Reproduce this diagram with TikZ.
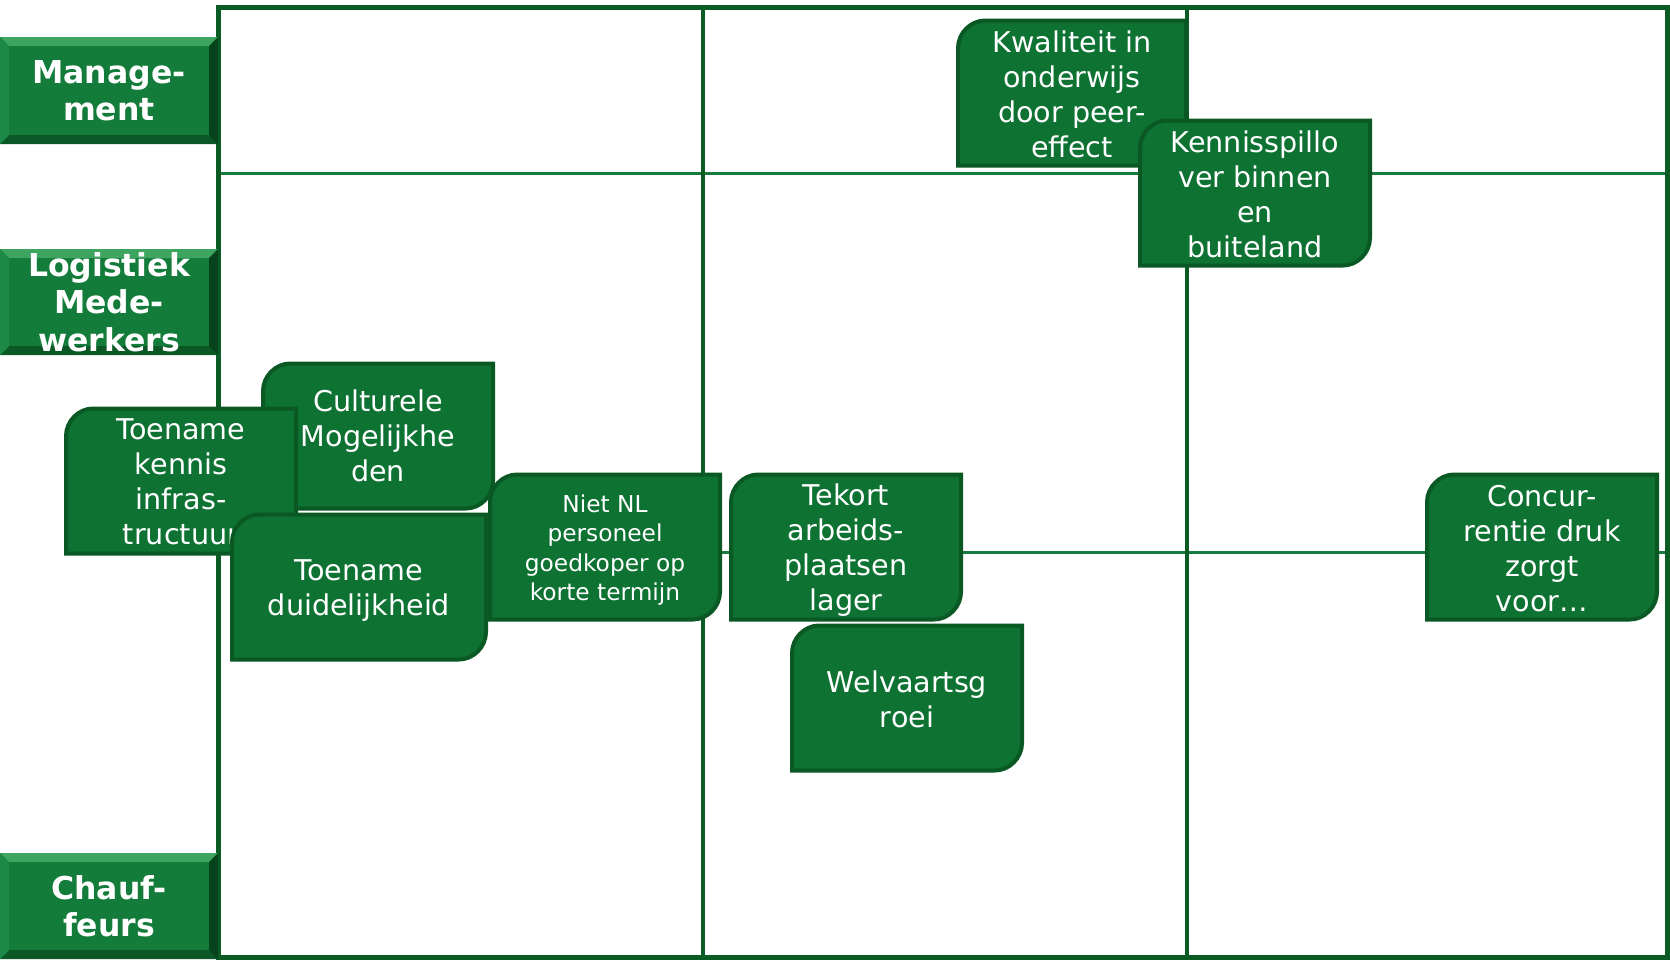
\documentclass[tikz,border=0pt]{standalone}
\usepackage{fontspec}
\setmainfont{DejaVu Sans}
\definecolor{gfillc}{RGB}{13,114,50}
\definecolor{gborderc}{RGB}{10,88,36}
\definecolor{gridc}{RGB}{11,91,37}
\definecolor{hlinec}{RGB}{24,122,60}
\definecolor{labc}{RGB}{19,124,58}
\definecolor{labtopc}{RGB}{62,165,96}
\definecolor{labbotc}{RGB}{11,88,38}
\definecolor{labrightc}{RGB}{6,66,27}
\definecolor{lableftc}{RGB}{28,138,70}
\tikzset{
  gridouter/.style={draw=gridc, line width=5pt},
  gridvert/.style={draw=gridc, line width=4pt},
  gridhor/.style={draw=hlinec, line width=3pt},
  gshape/.style={fill=gfillc, draw=gborderc, line width=4pt, line join=miter},
  gtxt/.style={align=center, inner sep=0pt, text=white, font=\fontsize{28.6}{35}\selectfont},
  gtxtsmall/.style={gtxt, font=\fontsize{23.3}{29.3}\selectfont},
  labtxt/.style={align=center, inner sep=0pt, text=white, font=\fontsize{31.5}{37.5}\selectfont\bfseries}
}
% box: name, center, half width, style, text, text shift
\newcommand\gbox[6]{%
  \begin{scope}[shift={(#2)}]
    \draw[gshape] (-#3,-45) .. controls (-#3,-59.9) and (-#3+12.6,-72.5) .. (-#3+27,-72.5)
      -- (#3,-72.5) -- (#3,45) .. controls (#3,59.9) and (#3-12.6,72.5) .. (#3-27,72.5)
      -- (-#3,72.5) -- cycle;
  \end{scope}
  \node[#4] (#1) at ([yshift=-#6pt]#2) {#5};
}
% label: name, y1, y2, text
\newcommand\lbox[4]{%
  \fill[labc] (0,#2) rectangle (218,#3);
  \fill[labtopc] (0,#2) -- (218,#2) -- (209,#2+9) -- (9,#2+9) -- cycle;
  \fill[labbotc] (0,#3) -- (218,#3) -- (209,#3-9) -- (9,#3-9) -- cycle;
  \fill[labrightc] (218,#2) -- (218,#3) -- (209,#3-9) -- (209,#2+9) -- cycle;
  \fill[lableftc] (0,#2) -- (0,#3) -- (9,#3-9) -- (9,#2+9) -- cycle;
  \node[labtxt] (#1) at (109,{(#2+#3)/2}) {#4};
}
\begin{document}
\begin{tikzpicture}[x=1pt,y=-1pt]
\useasboundingbox (0,0) rectangle (1670,959);
\fill[white] (0,0) rectangle (1670,959);
% grid
\coordinate (tl) at (218,7);
\coordinate (tr) at (1667,7);
\coordinate (br) at (1667,957);
\coordinate (bl) at (218,957);
\coordinate (h1l) at (218,173);
\coordinate (h1r) at (1667,173);
\coordinate (h2l) at (218,552);
\coordinate (h2r) at (1667,552);
\coordinate (v1t) at (703,7);
\coordinate (v1b) at (703,957);
\coordinate (v2t) at (1187,7);
\coordinate (v2b) at (1187,957);
\draw[gridhor] (h1l) -- (h1r);
\draw[gridhor] (h2l) -- (h2r);
\draw[gridvert] (v1t) -- (v1b);
\draw[gridvert] (v2t) -- (v2b);
\draw[gridouter] (tl) -- (tr) -- (br) -- (bl) -- cycle;
% row labels
\lbox{man}{37}{144}{Manage-\\ment}
\lbox{log}{249}{355}{Logistiek\\Mede-\\werkers}
\lbox{chf}{853}{959}{Chauf-\\feurs}
% boxes
\gbox{kwal}{1072,93}{114}{gtxt}{Kwaliteit in\\onderwijs\\door peer-\\effect}{1}
\gbox{kenn}{1255,193}{115}{gtxt}{Kennisspillo\\ver binnen\\en\\buiteland}{1}
\gbox{cult}{378,436}{115}{gtxt}{Culturele\\Mogelijkhe\\den}{0}
\gbox{tkenn}{181,481}{115}{gtxt}{Toename\\kennis\\infras-\\tructuur}{1}
\gbox{tduid}{359,587}{127}{gtxt}{Toename\\duidelijkheid}{4}
\gbox{niet}{605,547}{115}{gtxtsmall}{Niet NL\\personeel\\goedkoper op\\korte termijn}{3}
\gbox{tek}{846,547}{115}{gtxt}{Tekort\\arbeids-\\plaatsen\\lager}{3}
\gbox{welv}{907,698}{115}{gtxt}{Welvaartsg\\roei}{1}
\gbox{conc}{1542,547}{115}{gtxt}{Concur-\\rentie druk\\zorgt\\voor…}{2}
\end{tikzpicture}
\end{document}
